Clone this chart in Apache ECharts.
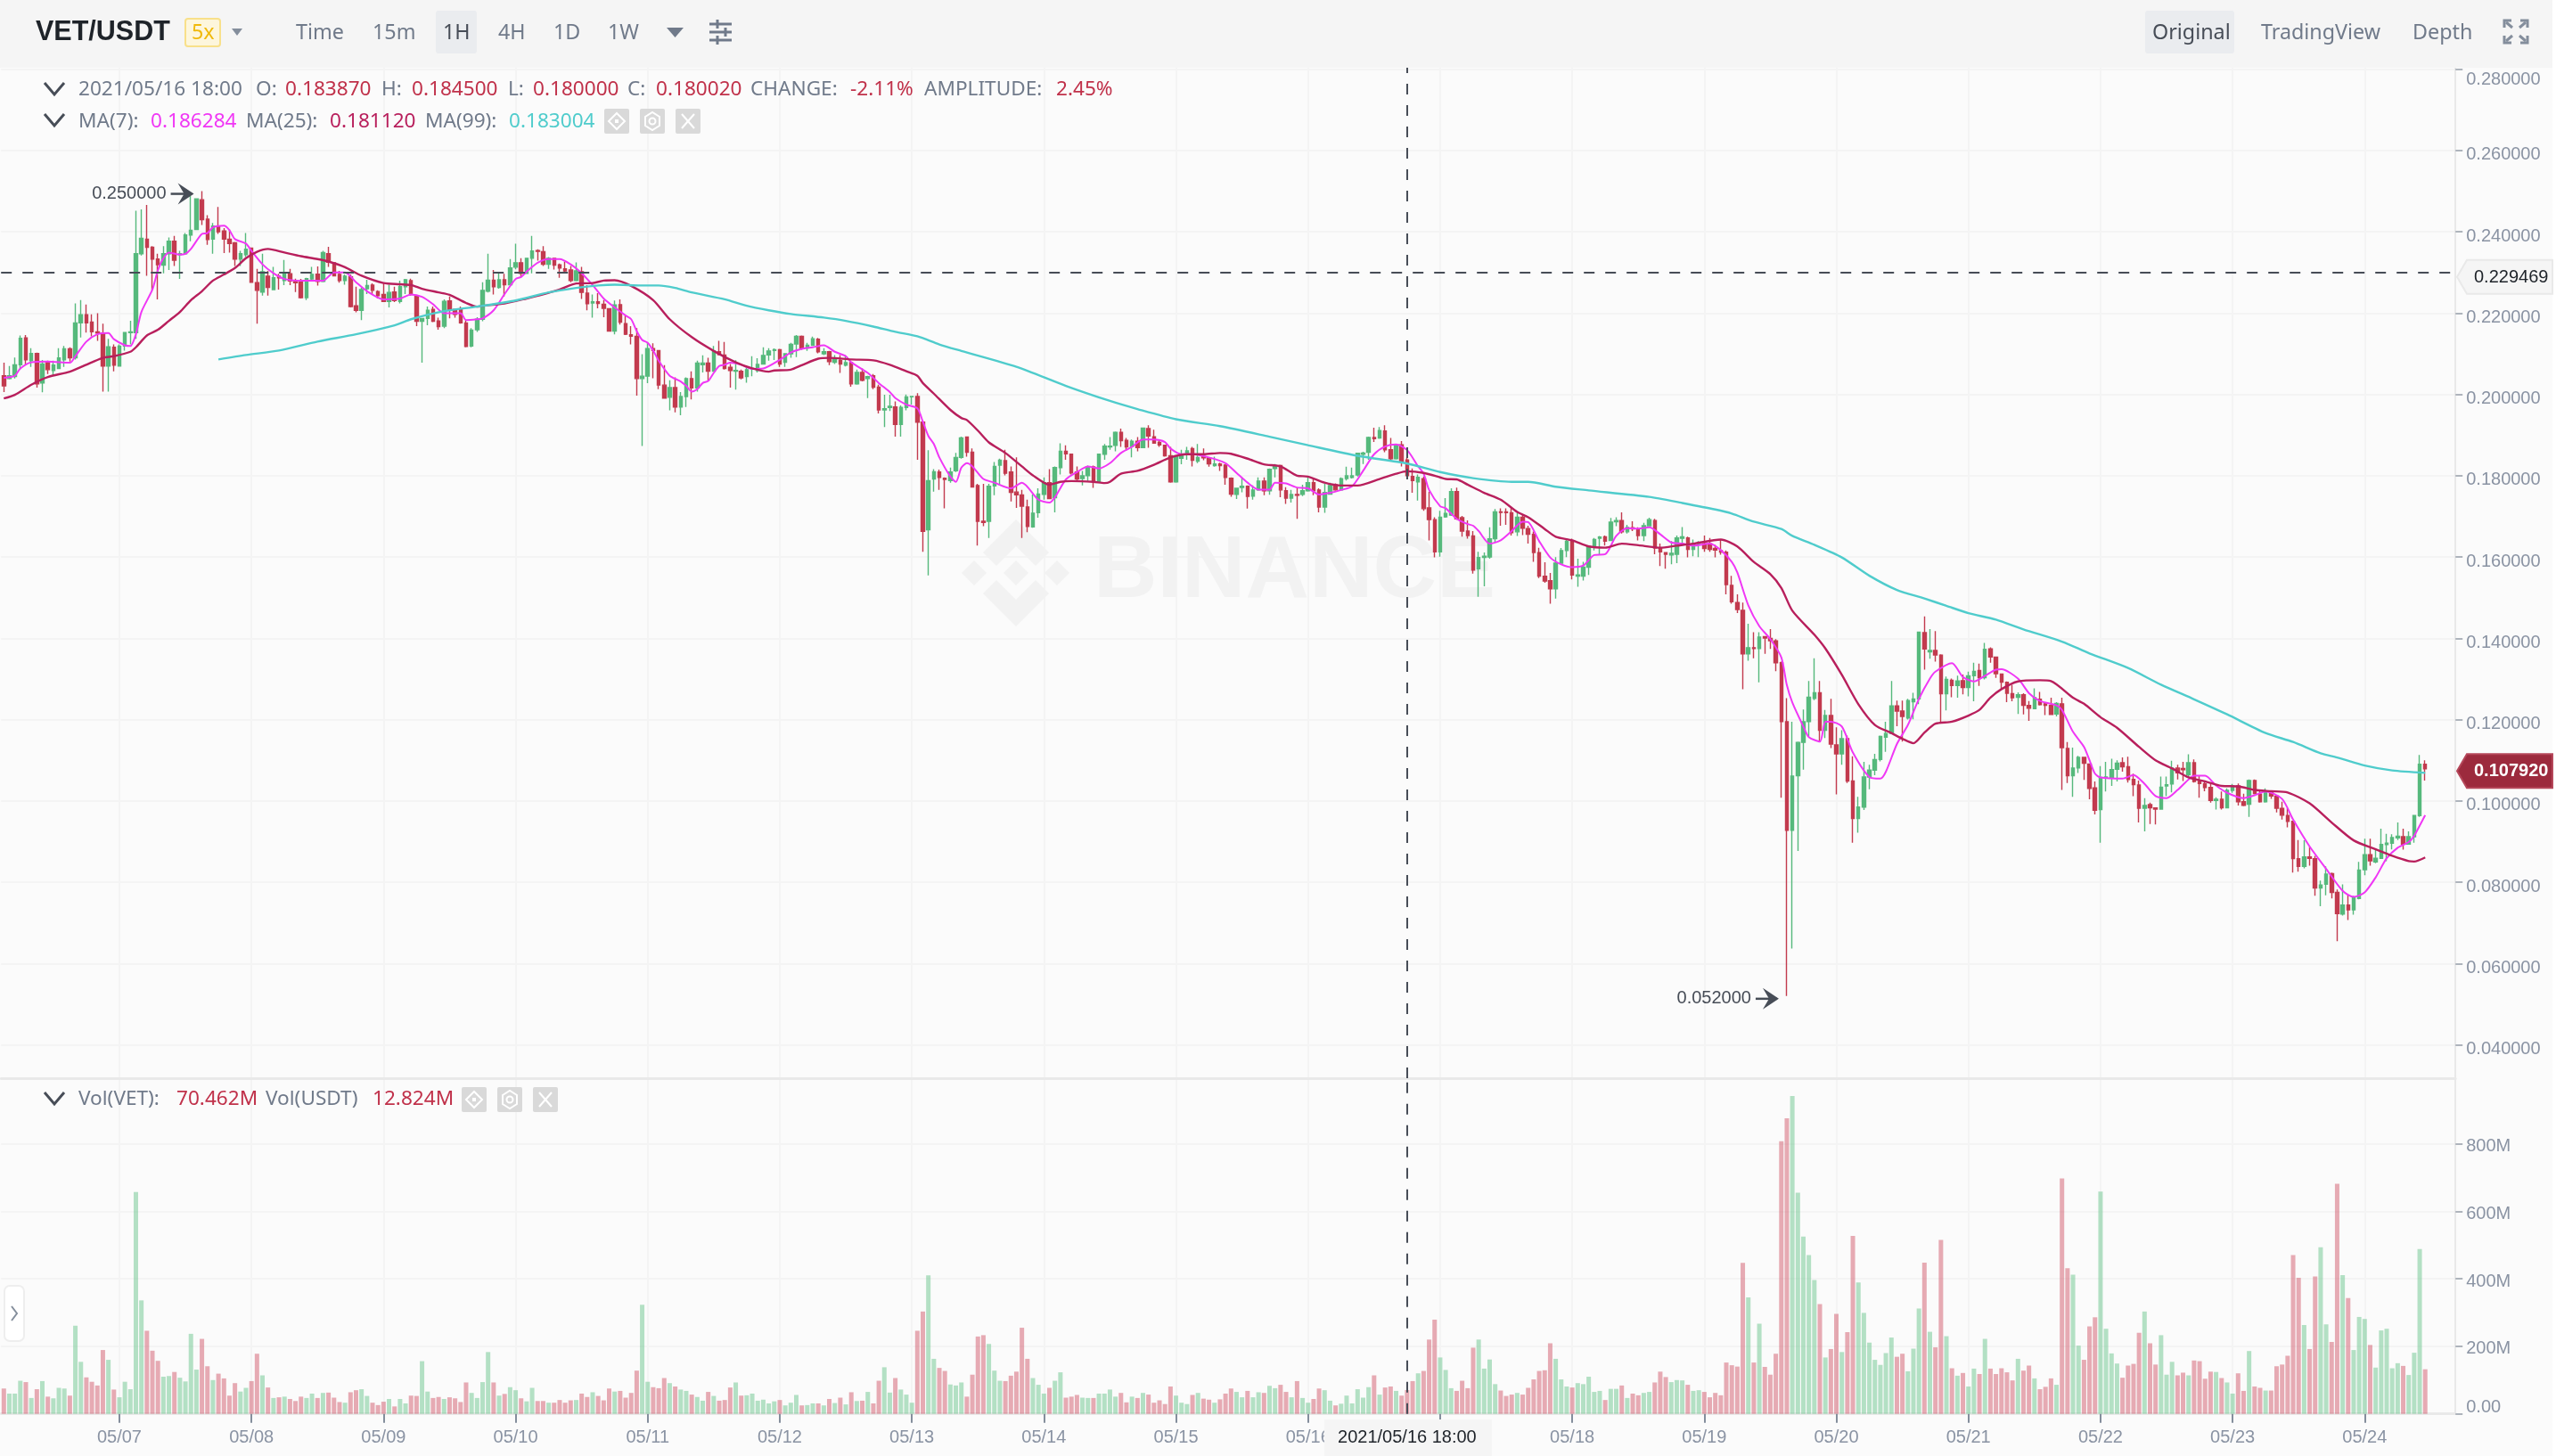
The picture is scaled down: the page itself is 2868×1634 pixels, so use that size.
<!DOCTYPE html>
<html><head><meta charset="utf-8"><title>VET/USDT</title>
<style>html,body{margin:0;padding:0;background:#fbfbfb}#c{width:2868px;height:1634px}</style>
<script src="https://cdn.jsdelivr.net/npm/echarts@6/dist/echarts.min.js"></script></head>
<body><div id="c"></div><script>
const PRICE_UNIT = 1e-4;           // candles and MA values are written in units of 0.0001 USDT
const FIRST_HOUR_OFFSET = 3;       // first candle is 05/06 03:00
const priceTicks = [0.04,0.06,0.08,0.10,0.12,0.14,0.16,0.18,0.20,0.22,0.24,0.26,0.28];
const volumeTicks = [0,200,400,600,800];
const crosshairIndex = 255, crosshairPrice = 0.229469, crosshairLine = 0.2291, crosshairTime = '2021/05/16 18:00';
const lastPrice = 0.107920, highMark = {index:36, price:0.25}, lowMark = {index:324, price:0.052};
// [open, close, low, high], hourly
const candles = [
[2046,2021,2006,2078],[2039,2046,2037,2070],[2044,2073,2039,2091],[2073,2138,2061,2145],[2139,2085,2073,2146],[2083,2101,2068,2114],[2101,2026,2017,2103],[2028,2075,2005,2085],[2079,2061,2050,2083],[2059,2072,2046,2083],
[2064,2090,2064,2114],[2085,2112,2068,2119],[2112,2090,2081,2116],[2090,2176,2086,2224],[2176,2196,2140,2232],[2196,2176,2152,2221],[2178,2154,2143,2197],[2154,2151,2132,2200],[2151,2070,2007,2174],[2070,2117,2007,2137],
[2116,2072,2057,2123],[2070,2119,2070,2123],[2119,2152,2108,2154],[2152,2154,2123,2181],[2152,2346,2137,2452],[2346,2384,2342,2455],[2382,2362,2292,2466],[2362,2333,2256,2365],[2333,2319,2234,2346],[2318,2346,2298,2365],
[2346,2377,2306,2386],[2377,2330,2316,2390],[2344,2346,2284,2353],[2346,2392,2344,2397],[2392,2404,2377,2488],[2406,2481,2404,2482],[2479,2430,2417,2500],[2431,2381,2368,2441],[2382,2414,2346,2422],[2414,2400,2395,2461],
[2402,2382,2348,2409],[2382,2371,2349,2406],[2373,2333,2316,2375],[2333,2346,2316,2353],[2344,2357,2338,2397],[2360,2276,2276,2360],[2275,2256,2174,2309],[2252,2302,2243,2346],[2291,2263,2243,2304],[2258,2287,2256,2314],
[2291,2287,2258,2297],[2280,2297,2269,2331],[2297,2279,2269,2309],[2278,2275,2252,2285],[2276,2238,2236,2284],[2238,2285,2232,2287],[2284,2295,2282,2314],[2296,2278,2268,2315],[2278,2349,2276,2353],[2346,2325,2314,2363],
[2324,2292,2291,2324],[2295,2280,2275,2304],[2280,2291,2270,2295],[2289,2216,2214,2295],[2218,2207,2202,2265],[2207,2258,2183,2263],[2260,2268,2247,2282],[2269,2256,2246,2273],[2253,2243,2236,2256],[2246,2229,2227,2273],
[2229,2251,2214,2270],[2252,2231,2227,2265],[2229,2265,2224,2280],[2265,2282,2247,2284],[2280,2246,2243,2285],[2243,2180,2168,2243],[2180,2187,2078,2187],[2187,2207,2170,2216],[2209,2180,2178,2216],[2181,2167,2159,2189],
[2168,2229,2163,2234],[2230,2209,2187,2241],[2209,2197,2189,2211],[2209,2176,2174,2216],[2176,2118,2116,2183],[2119,2158,2116,2163],[2159,2185,2154,2190],[2185,2256,2180,2276],[2254,2281,2251,2346],[2281,2265,2246,2306],
[2263,2282,2260,2300],[2282,2270,2241,2297],[2270,2311,2269,2333],[2313,2324,2308,2371],[2324,2298,2289,2335],[2298,2335,2297,2336],[2335,2353,2298,2390],[2354,2352,2329,2357],[2351,2320,2316,2365],[2320,2335,2309,2338],
[2335,2318,2307,2336],[2319,2311,2287,2322],[2309,2304,2300,2327],[2306,2280,2276,2316],[2280,2304,2278,2325],[2302,2251,2235,2314],[2249,2223,2207,2269],[2225,2228,2189,2246],[2228,2224,2212,2249],[2222,2212,2190,2232],
[2211,2156,2155,2212],[2156,2220,2148,2231],[2221,2178,2172,2234],[2174,2148,2146,2194],[2147,2143,2123,2168],[2143,2039,1997,2163],[2039,2045,1873,2099],[2045,2113,2028,2127],[2113,2108,2040,2126],[2108,2023,2013,2108],
[2023,1991,1990,2072],[1993,2017,1961,2035],[2017,1969,1956,2042],[1969,1995,1949,2006],[1995,2039,1969,2042],[2039,2016,1988,2057],[2016,2077,2007,2083],[2073,2077,2054,2096],[2077,2057,2033,2090],[2057,2107,2056,2119],
[2105,2098,2097,2132],[2097,2064,2061,2129],[2067,2059,2017,2075],[2057,2059,2012,2084],[2057,2041,2037,2061],[2044,2061,2029,2066],[2063,2064,2045,2094],[2059,2074,2054,2089],[2075,2096,2073,2116],[2097,2107,2083,2114],
[2108,2110,2085,2113],[2110,2075,2068,2112],[2079,2100,2068,2101],[2100,2123,2090,2127],[2124,2143,2092,2146],[2143,2114,2110,2145],[2114,2121,2107,2127],[2121,2137,2120,2142],[2136,2105,2101,2139],[2100,2105,2097,2114],
[2105,2081,2072,2107],[2079,2086,2075,2097],[2084,2075,2053,2097],[2072,2078,2069,2097],[2078,2026,2019,2079],[2026,2054,2024,2061],[2054,2035,2032,2064],[2039,2044,1991,2046],[2046,2018,2013,2050],[2018,1962,1953,2024],
[1962,1965,1920,1999],[1968,1971,1959,1999],[1969,1926,1896,1983],[1926,1968,1896,1973],[1968,1994,1961,2000],[1994,1995,1975,1996],[1995,1932,1839,2003],[1932,1663,1613,1933],[1667,1788,1555,1863],[1792,1810,1761,1816],
[1809,1796,1765,1815],[1794,1791,1720,1796],[1788,1809,1783,1820],[1812,1845,1809,1856],[1845,1893,1842,1896],[1895,1858,1847,1896],[1858,1772,1771,1867],[1776,1688,1628,1780],[1688,1685,1676,1780],[1688,1774,1647,1780],
[1775,1823,1752,1834],[1826,1838,1776,1842],[1837,1806,1801,1864],[1809,1759,1737,1823],[1760,1753,1721,1845],[1753,1725,1647,1765],[1723,1675,1661,1741],[1674,1708,1672,1754],[1709,1755,1697,1769],[1754,1783,1741,1796],
[1783,1744,1742,1816],[1746,1820,1710,1823],[1820,1860,1803,1880],[1860,1854,1839,1875],[1853,1807,1803,1854],[1809,1792,1787,1823],[1793,1800,1776,1812],[1800,1822,1787,1825],[1822,1785,1770,1825],[1785,1853,1783,1854],
[1853,1873,1839,1878],[1871,1873,1864,1895],[1875,1907,1860,1909],[1907,1886,1871,1916],[1887,1871,1861,1893],[1872,1885,1845,1889],[1885,1869,1860,1895],[1869,1917,1869,1918],[1916,1898,1869,1924],[1896,1880,1879,1913],
[1882,1876,1871,1889],[1875,1849,1847,1876],[1849,1785,1783,1871],[1785,1847,1783,1849],[1843,1853,1828,1864],[1853,1861,1839,1871],[1867,1838,1823,1871],[1836,1845,1831,1878],[1847,1844,1838,1867],[1844,1829,1822,1845],
[1825,1829,1822,1847],[1829,1825,1812,1832],[1826,1796,1778,1829],[1794,1755,1748,1796],[1754,1769,1743,1770],[1771,1774,1759,1796],[1774,1749,1719,1776],[1750,1765,1741,1776],[1765,1787,1763,1796],[1787,1763,1752,1796],
[1763,1816,1753,1818],[1818,1825,1796,1829],[1825,1765,1747,1827],[1763,1745,1731,1772],[1745,1754,1734,1765],[1754,1752,1694,1771],[1754,1763,1750,1778],[1763,1783,1761,1796],[1783,1763,1752,1793],[1765,1723,1710,1769],
[1723,1759,1709,1780],[1755,1776,1754,1783],[1778,1765,1763,1781],[1765,1793,1763,1796],[1793,1800,1788,1822],[1796,1800,1793,1820],[1802,1855,1798,1856],[1853,1856,1829,1859],[1858,1894,1839,1896],[1894,1891,1883,1918],
[1893,1911,1891,1920],[1910,1864,1858,1924],[1864,1842,1837,1893],[1842,1875,1840,1878],[1876,1834,1823,1885],[1838.7,1800.2,1800,1845],[1798,1788,1758,1818],[1785,1796,1739,1803],[1793,1719,1714,1798],[1721,1692,1641,1761],
[1692,1613,1599,1698],[1613,1698,1601,1714],[1699,1707,1697,1745],[1703,1761,1701,1769],[1761,1694,1692,1771],[1697,1664,1650,1701],[1664,1653,1645,1690],[1652,1568,1559,1664],[1571,1599,1502,1613],[1599,1602,1528,1611],
[1600,1645,1596,1673],[1645,1711,1636,1718],[1711,1710,1677,1720],[1711,1709,1679,1720],[1709,1660,1653,1722],[1662,1698,1652,1711],[1698,1671,1654,1704],[1670,1656,1633,1677],[1656,1611,1588,1663],[1611,1553,1548,1623],
[1553,1541,1537,1587],[1542,1522,1485,1561],[1522,1585,1498,1600],[1585,1616,1582,1622],[1616,1639,1600,1645],[1641,1556,1545,1645],[1553,1556,1527,1596],[1553,1575,1542,1588],[1575,1626,1556,1628],[1626,1643,1616,1647],
[1646,1649,1605,1652],[1650,1639,1628,1653],[1641,1686,1639,1696],[1687,1690,1676,1698],[1690,1662,1658,1710],[1662,1673,1658,1679],[1672,1669,1664,1688],[1667,1653,1641,1673],[1653,1677,1639,1684],[1677,1692,1676,1697],
[1690,1622,1607,1694],[1622,1613,1578,1633],[1611,1607,1571,1611],[1605,1609,1582,1639],[1607,1647,1585,1653],[1646,1650,1630,1674],[1647,1619,1599,1650],[1619,1633,1602,1643],[1633,1635,1600,1639],[1633,1621,1613,1653],
[1633,1619,1613,1647],[1621,1617,1599,1630],[1616,1612,1606,1643],[1612,1532,1508,1616],[1530,1490,1485,1554],[1488,1471,1462,1508],[1469,1362,1275,1488],[1362,1377,1345,1436],[1377,1375,1351,1415],[1375,1403,1292,1415],
[1404,1401,1362,1406],[1400,1394,1374,1423],[1394,1340,1319,1398],[1340,1195,1008,1343],[1195,928,520,1253],[928,1061,637,1195],[1062,1144,877,1146],[1144,1195,1077,1225],[1195,1255,1159,1295],[1252,1266,1248,1351],
[1266,1174,1146,1295],[1174,1210,1155,1224],[1210,1140,1130,1251],[1138,1116,1016,1181],[1116,1153,1089,1174],[1153,1049,1044,1161],[1049,957,897,1110],[957,985,922,1010],[985,1059,978,1096],[1059,1076,1029,1089],
[1076,1102,1063,1116],[1102,1159,1097,1161],[1157,1166,1121,1195],[1166,1234,1164,1295],[1234,1221,1184,1247],[1221,1208,1146,1247],[1204,1247,1200,1251],[1244,1251,1201,1266],[1251,1415,1238,1417],[1414,1374,1323,1454],
[1367,1370,1350,1423],[1370,1359,1343,1418],[1359,1264,1194,1361],[1264,1299,1223,1306],[1297,1284,1255,1301],[1284,1295,1254,1308],[1296,1279,1262,1311],[1279,1308,1257,1318],[1308,1319,1245,1340],[1321,1303,1283,1338],
[1303,1373,1299,1389],[1374,1354,1340,1378],[1354,1313,1303,1354],[1312,1292,1275,1313],[1292,1265,1243,1294],[1264,1254,1245,1286],[1255,1261,1214,1267],[1261,1235,1213,1265],[1235,1228,1197,1246],[1227,1254,1226,1277],
[1250,1237,1235,1268],[1239,1235,1211,1243],[1235,1213,1213,1254],[1214,1240,1208,1243],[1239,1131,1027,1254],[1129,1062,1044,1145],[1062,1081,1010,1131],[1081,1107,1069,1111],[1107,1093,1052,1109],[1091,1031,1004,1091],
[1032,977,967,1048],[979,1058,897,1086],[1056,1059,1023,1096],[1058,1077,1037,1104],[1078,1093,1048,1100],[1094,1084,1072,1107],[1084,1053,1045,1109],[1053,1040,1012,1067],[1039,982,947,1050],[982,989,925,1007],
[991,983,943,996],[983,980,942,984],[980,1034,979,1060],[1037,1040,1012,1060],[1042,1081,1021,1099],[1081,1069,1053,1089],[1080,1077,1049,1096],[1064,1094,1056,1115],[1094,1048,1045,1102],[1048,1043,1008,1062],
[1042,1033,1024,1050],[1033,1001,996,1045],[1001,1004,979,1009],[1004,983,979,1023],[983,1026,982,1031],[1026,1037,1020,1042],[1037,998,989,1043],[998,989,987,1018],[992,1050,961,1053],[1050,1018,1016,1053],
[1017,998,996,1027],[998,1023,996,1031],[1022,1012,1005,1026],[1012,982,972,1014],[982,965,954,998],[964,950,935,982],[950,858,824,951],[858,839,826,904],[839,862,834,903],[862,859,841,887],
[858,786,767,865],[786,793,741,804],[795,820,768,839],[821,775,760,824],[775,723,655,782],[722,744,718,795],[744,732,707,770],[732,763,720,766],[760,830,758,850],[831,868,817,907],
[868,853,841,907],[850,859,847,880],[859,893,858,932],[893,896,852,919],[896,910,881,918],[909,913,904,947],[912,894,880,932],[894,912,893,925],[912,964,897,966],[964,1090,961,1113],
[1090,1079.2,1050,1100]];
// traded volume per candle, millions of VET
const volumes = [75,60,60,98,94,47,73,97,51,46,77,75,54,261,154,108,95,84,189,160,72,49,95,73,657,336,246,187,157,110,112,124,107,96,237,131,222,141,100,119,105,54,91,66,77,97,178,114,78,47,49,51,44,38,51,47,60,47,62,63,48,35,33,64,70,73,53,33,26,36,44,22,44,31,54,53,156,66,47,50,44,49,46,35,93,62,47,94,183,93,54,59,79,70,46,37,77,38,38,33,33,41,33,40,41,60,50,64,53,40,75,66,68,48,62,128,323,95,79,76,106,91,81,72,68,57,50,39,65,53,39,41,78,93,54,55,60,39,42,31,37,41,25,33,56,25,26,31,31,25,44,32,48,28,64,38,39,65,31,98,138,63,
106,72,57,33,246,303,410,163,136,127,87,84,93,51,116,229,233,207,128,98,97,113,125,255,163,106,86,60,77,98,123,48,51,56,48,47,47,60,60,72,51,62,34,51,47,62,57,33,40,29,81,54,33,29,56,62,45,42,33,43,60,75,65,49,68,49,64,62,83,76,86,65,49,97,47,33,44,75,70,39,25,30,54,31,73,48,79,114,57,78,81,68,54,70.462,97,120,127,220,279,167,130,76,68,98,76,196,220,134,161,88,69,53,57,62,57,77,102,127,129,209,163,102,81,78,91,88,110,65,68,41,74,74,84,47,60,55,62,65,93,125,109,94,100,99,86,68,70,65,49,62,55,152,144,140,447,345,152,267,139,116,178,807,
875,941,655,525,470,396,325,167,192,296,183,242,527,389,299,211,160,145,180,226,169,178,126,193,312,448,243,197,515,230,135,113,121,81,134,118,222,134,118,135,123,99,163,128,143,105,73,80,105,86,697,431,412,202,160,259,286,658,252,179,149,107,143,148,240,303,209,146,233,116,154,114,122,114,158,156,104,125,124,106,93,60,120,68,186,81,77,69,69,141,146,172,470,403,263,192,407,493,265,213,681,411,343,189,287,281,204,137,247,252,135,150,142,115,181,488,132];
// moving averages: [candle index, value]
const ma7 = [[0,2041],[2,2046],[3,2064],[5,2079],[8,2081],[12,2078],[13,2094],[15,2130],[17,2148],[19,2151],[20,2136],[22,2121],[23,2119],[24,2148],[25,2203],[27,2258],[28,2306],[29,2335],[30,2349],[32,2344],[33,2346],[34,2358],[36,2395],[37,2397],[38,2411],[40,2415],[41,2404],[42,2382],[44,2371],[45,2353],[47,2320],[49,2298],[51,2284],[54,2280],[56,2280],[58,2280],[60,2300],[62,2300],[64,2276],[66,2254],[69,2234],[72,2236],[74,2246],[76,2240],[78,2222],[80,2200],[83,2200],[84,2183],[86,2185],
[87,2187],[89,2207],[91,2247],[93,2284],[94,2289],[95,2302],[97,2324],[99,2333],[101,2333],[103,2320],[105,2298],[107,2269],[109,2236],[111,2214],[113,2194],[114,2185],[115,2156],[116,2134],[117,2127],[118,2108],[119,2083],[121,2046],[123,2032],[124,2021],[125,2007],[126,2013],[127,2028],[128,2033],[129,2053],[130,2070],[131,2073],[132,2078],[134,2073],[136,2063],[138,2064],[141,2085],[143,2103],[145,2112],[147,2116],[149,2121],[151,2105],[153,2094],[154,2079],[157,2053],[159,2028],[161,2006],[162,1991],[164,1975],[166,1966],[167,1933],[168,1898],[169,1878],[170,1845],[172,1798],[173,1785],[174,1820],
[175,1831],[176,1823],[178,1792],[180,1783],[183,1769],[185,1783],[188,1741],[190,1734],[191,1747],[193,1791],[195,1809],[197,1823],[199,1818],[201,1831],[203,1856],[205,1871],[207,1889],[209,1889],[211,1883],[212,1867],[214,1853],[216,1853],[219,1845],[222,1831],[224,1807],[226,1783],[228,1766],[230,1766],[231,1783],[233,1781],[235,1771],[237,1769],[239,1754],[241,1758],[243,1765],[245,1774],[247,1812],[249,1853],[251,1872],[253,1877],[255,1863],[257,1823],[258,1805],[259,1765],[261,1725],
[262,1720],[264,1694],[266,1681],[267,1677],[268,1664],[270,1633],[272,1641],[274,1664],[276,1687],[277,1686],[279,1639],[281,1599],[283,1582],[285,1575],[287,1579],[289,1605],[291,1607],[293,1652],[295,1671],[297,1670],[299,1673],[301,1656],[303,1636],[305,1633],[307,1628],[310,1633],[312,1617],[314,1588],[315,1562],[317,1481],[319,1430],[321,1398],[323,1353],[324,1285],[325,1242],[327,1183],[328,1157],[330,1146],[331,1195],[332,1195],[334,1183],[336,1119],[339,1059],[341,1055],[342,1072],[344,1140],[346,1187],[348,1251],
[350,1301],[351,1318],[354,1339],[356,1305],[358,1294],[360,1308],[362,1323],[363,1324],[366,1301],[368,1265],[370,1246],[373,1235],[374,1224],[376,1170],[378,1133],[379,1100],[380,1067],[381,1058],[385,1055],[387,1064],[389,1042],[391,1012],[393,1007],[395,1027],[397,1053],[398,1062],[400,1062],[402,1038],[404,1020],[407,1007],[409,1014],[411,1023],[414,1005],[416,954],[419,888],[422,833],[425,779],[427,764],[429,775],[431,812],[433,859],[435,885],[437,899],[438,914],[440,965]];
const ma25 = [[0,1990],[2,1999],[5,2024],[8,2043],[12,2056],[16,2079],[18,2090],[20,2094],[23,2105],[24,2116],[26,2145],[28,2159],[30,2181],[32,2203],[34,2232],[36,2254],[38,2280],[40,2295],[42,2311],[44,2335],[46,2351],[48,2358],[51,2349],[54,2340],[57,2333],[59,2327],[62,2313],[65,2292],[69,2274],[72,2271],[74,2269],[76,2260],[79,2251],[81,2245],[84,2225],[86,2216],
[87,2218],[91,2224],[95,2236],[98,2246],[101,2258],[104,2273],[107,2274],[109,2280],[111,2281],[114,2267],[118,2232],[121,2185],[125,2141],[129,2107],[133,2079],[136,2064],[139,2056],[140,2059],[143,2061],[145,2072],[148,2088],[150,2090],[154,2086],[158,2084],[161,2073],[164,2057],[166,2046],[167,2028],[169,2002],[172,1962],[174,1942],
[175,1937],[177,1911],[179,1882],[182,1856],[185,1823],[187,1801],[190,1778],[192,1785],[194,1787],[198,1785],[200,1782],[201,1785],[203,1805],[206,1812],[209,1827],[212,1845],[215,1853],[218,1853],[221,1856],[223,1854],[226,1842],[229,1828],[232,1823],[235,1800],[237,1798],[240,1783],[243,1776],[246,1776],[250,1792],[253,1805],[255,1811],[258,1807],[261,1796],
[262,1792],[264,1791],[266,1778],[269,1758],[272,1741],[275,1711],[277,1698],[280,1669],[282,1650],[285,1641],[288,1626],[291,1623],[294,1633],[297,1629],[301,1623],[304,1628],[307,1633],[312,1643],[315,1626],[318,1588],[321,1558],[323,1524],[325,1468],[329,1409],[331,1375],[334,1310],[337,1238],[340,1187],[343,1167],[345,1153],[347,1142],[349,1168],
[351,1190],[354,1195],[357,1210],[359,1224],[361,1254],[363,1275],[366,1294],[370,1297],[372,1295],[376,1254],[378,1239],[381,1206],[384,1180],[388,1133],[391,1100],[394,1080],[397,1058],[400,1048],[403,1037],[406,1036],[409,1027],[412,1024],[415,1021],[419,994],[423,947],[427,903],[431,881],[434,865],[437,852],[438,851],[440,861]];
const ma99 = [[39,2086],[44,2097],[50,2108],[57,2130],[64,2148],[71,2170],[74,2185],[80,2205],[86,2216],[93,2231],[99,2251],[104,2262],[108,2268],[111,2270],[116,2268],[119,2268],[122,2262],[125,2251],[131,2234],[135,2218],[139,2207],[143,2198],[149,2189],[153,2181],[158,2167],[162,2154],[166,2143],[170,2123],[174,2107],[184,2068],[193,2021],[201,1984],[206,1964],[213,1939],[221,1922],[230,1896],[237,1875],[246,1849],[255,1830],[261,1809],[267,1794],[274,1785],[277,1785],[282,1773],[288,1764],[299,1748],[305,1733],[311,1717],[314,1707],[318,1687],[323,1669],[325,1652],[329,1630],[334,1599],[339,1554],[344,1519],[349,1498],[353,1480],[357,1462],[362,1446],[367,1422],[374,1392],[379,1363],[386,1327],[392,1286],[398,1250],[404,1213],[411,1167],[416,1145],[421,1117],[424,1107],[429,1087],[434,1075],[440,1069]];
const infoLine1 = [['2021/05/16 18:00',88,0],['O:',287,0],['0.183870',320,1],['H:',428,0],['0.184500',462,1],['L:',570,0],['0.180000',598,1],['C:',704,0],['0.180020',736,1],['CHANGE:',842,0],['-2.11%',954,1],['AMPLITUDE:',1037,0],['2.45%',1185,1]];
const infoLine2 = [['MA(7):',88,'#707a8a'],['0.186284',169,'#f037f5'],['MA(25):',276,'#707a8a'],['0.181120',370,'#b81f5c'],['MA(99):',477,'#707a8a'],['0.183004',571,'#4fcccc']];
const infoLine3 = [['Vol(VET):',88,0],['70.462M',198,1],['Vol(USDT)',298,0],['12.824M',418,1]];
const toolbarLeft = [['Time',332],['15m',418],['4H',559],['1D',621],['1W',682]];

const extraSlots = 5, slotCount = candles.length + extraSlots;
const categories = [];
for (let i = 0; i < slotCount; i++) {
  const h = i + FIRST_HOUR_OFFSET, day = 6 + Math.floor(h / 24), hour = h % 24;
  categories.push('05/' + String(day).padStart(2, '0') + (hour === 0 ? '' : ' ' + String(hour).padStart(2, '0') + ':00'));
}
const isDay = i => (i + FIRST_HOUR_OFFSET) % 24 === 0;
const UP = '#56b97c', DOWN = '#c23a4e', VUP = '#5cbf80', VDOWN = '#c8394f';
const toPrice = a => a.map(v => +(v * PRICE_UNIT).toFixed(6));
const AXIS = 'Liberation Sans', UI = 'Noto Sans';
const grey = '#8a93a3';

const chart = echarts.init(document.getElementById('c'), null, {renderer:'canvas', width:2868, height:1634, devicePixelRatio:1});
const dayTick = (i) => isDay(i);
const xBase = {
  type:'category', data:categories, boundaryGap:true,
  axisTick:{show:true, alignWithLabel:true, interval:dayTick, length:10, lineStyle:{color:'#848e9c', width:2}},
  splitLine:{show:true, alignWithLabel:true, interval:dayTick, lineStyle:{color:'#f4f4f4', width:2}},
  axisLine:{show:true, lineStyle:{color:'#e9e9e9', width:3}}
};
const option = {
  animation:false, backgroundColor:'#fbfbfb',
  grid:[{left:1.2, top:76, width:2754, height:1134}, {left:1.2, top:1207.7, width:2754, height:379}],
  xAxis:[
    Object.assign({}, xBase, {gridIndex:0, axisLabel:{show:false}, axisTick:{show:false}}),
    Object.assign({}, xBase, {gridIndex:1, axisLabel:{show:true, interval:dayTick, formatter:v => v.slice(0,5), color:grey, fontSize:20, fontFamily:AXIS, margin:17}})
  ],
  yAxis:[
    {type:'value', gridIndex:0, position:'right', min:0.0318, max:0.28037, scale:true,
     axisLine:{show:true, lineStyle:{color:'#e9e9e9', width:2}},
     axisTick:{show:true, length:8, customValues:priceTicks, lineStyle:{color:'#aeb4bc', width:2}},
     splitLine:{show:true, lineStyle:{color:'#f4f4f4', width:2}},
     axisLabel:{show:true, inside:false, margin:12, customValues:priceTicks, color:grey, fontSize:20, fontFamily:AXIS,
       formatter:v => Math.abs(v-0.28)<1e-9 ? '{t|'+v.toFixed(6)+'}' : '{n|'+v.toFixed(6)+'}',
       rich:{t:{padding:[24,0,0,0],color:grey,fontSize:20,fontFamily:AXIS}, n:{padding:[10,0,0,0],color:grey,fontSize:20,fontFamily:AXIS}}}},
    {type:'value', gridIndex:1, position:'right', min:0, max:1000,
     axisLine:{show:true, lineStyle:{color:'#e9e9e9', width:2}},
     axisTick:{show:true, length:8, customValues:volumeTicks, lineStyle:{color:'#aeb4bc', width:2}},
     splitLine:{show:true, lineStyle:{color:'#f4f4f4', width:2}},
     axisLabel:{show:true, margin:12, customValues:volumeTicks, color:grey, fontSize:20, fontFamily:AXIS,
       formatter:v => v===0 ? '{b|0.00}' : '{n|'+v+'M}',
       rich:{b:{padding:[0,0,14,0],color:grey,fontSize:20,fontFamily:AXIS}, n:{padding:[6,0,0,0],color:grey,fontSize:20,fontFamily:AXIS}}}}
  ],
  series:[
    {type:'candlestick', name:'VET/USDT', xAxisIndex:0, yAxisIndex:0, barWidth:4, clip:true,
     data:candles.map(toPrice),
     itemStyle:{color:UP, color0:DOWN, borderColor:UP, borderColor0:DOWN, borderWidth:1.4}},
    {type:'line', name:'MA(7)', xAxisIndex:0, yAxisIndex:0, data:ma7.map(p=>[p[0],p[1]*PRICE_UNIT]), showSymbol:false, smooth:0.25, lineStyle:{color:'#f037f5', width:2}, z:3},
    {type:'line', name:'MA(25)', xAxisIndex:0, yAxisIndex:0, data:ma25.map(p=>[p[0],p[1]*PRICE_UNIT]), showSymbol:false, smooth:0.25, lineStyle:{color:'#b81f5c', width:2.4}, z:3},
    {type:'line', name:'MA(99)', xAxisIndex:0, yAxisIndex:0, data:ma99.map(p=>[p[0],p[1]*PRICE_UNIT]), showSymbol:false, smooth:0.25, lineStyle:{color:'#4fcccc', width:2.4}, z:3,
     markLine:{silent:true, symbol:'none', animation:false, label:{show:false},
       lineStyle:{color:'#474d57', type:[12,12], width:2},
       data:[{xAxis:crosshairIndex},{yAxis:crosshairLine}]}},
    {type:'bar', name:'Volume', xAxisIndex:1, yAxisIndex:1, barWidth:5,
     data:volumes.map((v,i)=>({value:v, itemStyle:{color:candles[i][1]>=candles[i][0]?VUP:VDOWN, opacity:candles[i][1]>=candles[i][0]?0.45:0.42}})),
     markLine:{silent:true, symbol:'none', animation:false, label:{show:false},
       lineStyle:{color:'#474d57', type:[12,12], width:2}, data:[{xAxis:crosshairIndex}]}}
  ]
};
chart.setOption(option);

// ---- chrome, labels and overlays
const TOP = 50;
const els = [];
const R = (x,y,w,h,fill,o={}) => els.push({type:'rect', z:o.z??TOP, silent:true, shape:{x,y,width:w,height:h,r:o.r||0}, style:{fill, stroke:o.stroke||null, lineWidth:o.lw||0}});
const T = (x,y,text,fill,size,o={}) => els.push({type:'text', z:o.z??TOP+1, silent:true, x, y, style:{text, fill, font:(o.weight||'normal')+' '+size+'px "'+(o.font||UI)+'"', textAlign:o.align||'left', textVerticalAlign:'middle'}});
const PL = (pts,stroke,lw=2,o={}) => els.push({type:'polyline', z:o.z??TOP+1, silent:true, shape:{points:pts}, style:{stroke, lineWidth:lw, fill:null, lineJoin:'miter'}});
const PG = (pts,fill,o={}) => els.push({type:'polygon', z:o.z??TOP+1, silent:true, shape:{points:pts}, style:{fill, stroke:o.stroke||null, lineWidth:o.lw||0}});

// watermark (below the marks)
const WM = '#f2f2f2', wz = {z:0};
[[1093,643],[1140,643],[1186,643]].forEach(c=>PG([[c[0]-14,c[1]],[c[0],c[1]-14],[c[0]+14,c[1]],[c[0],c[1]+14]],WM,wz));
PG([[1140,583],[1177,620],[1162,635],[1140,613],[1118,635],[1103,620]],WM,wz);
PG([[1140,703],[1177,666],[1162,651],[1140,673],[1118,651],[1103,666]],WM,wz);
T(1227,643,'BINANCE',WM,99,{font:AXIS,weight:'bold',z:0});

// header
const TB = 23.3, TY = 37;
R(0,0,2864,76,'#f5f5f5');
T(40,37,'VET/USDT','#1e2329',30.5,{weight:'bold',font:'Liberation Sans'});
R(208,21,39,31,'#fdf6dc',{r:3,stroke:'#f8e08a',lw:2});
T(215,TY,'5x','#f0b90b',TB);
PG([[260,32],[272,32],[266,40]],'#848e9c');
toolbarLeft.forEach(t=>T(t[1],TY,t[0],'#707a8a',TB));
R(489,12,46,48,'#eaecef',{r:3}); T(497,TY,'1H','#474d57',TB);
PG([[748,31],[767,31],[757.5,42]],'#707a8a');
[[796,821,27,805],[796,821,36,814],[796,821,45,805]].forEach(l=>{PL([[l[0],l[2]],[l[1],l[2]]],'#707a8a',3);PL([[l[3],l[2]-5],[l[3],l[2]+5]],'#707a8a',3);});
R(2407,12,100,48,'#eaecef',{r:3}); T(2415,TY,'Original','#474d57',TB);
T(2537,TY,'TradingView','#707a8a',TB); T(2707,TY,'Depth','#707a8a',TB);
[[2810,23,1,1],[2836,23,-1,1],[2810,48,1,-1],[2836,48,-1,-1]].forEach(a=>{
  PL([[a[0],a[1]+a[3]*8],[a[0],a[1]],[a[0]+a[2]*8,a[1]]],'#848e9c',3);
  PL([[a[0]+a[2]*2,a[1]+a[3]*2],[a[0]+a[2]*9,a[1]+a[3]*8]],'#848e9c',3);
});
R(2864,0,4,1634,'#ffffff');

// info lines
const chevron = (x,y)=>PL([[x,y-7],[x+11,y+6],[x+22,y-7]],'#474d57',3);
const iconSet = (x0,y,h)=>{
  [0,40,80].forEach((dx,k)=>{
    const x=x0+dx; R(x,y,28,h,'#d9d9d9',{r:2});
    const cx=x+14, cy=y+h/2;
    if(k===0){PG([[cx-9,cy],[cx,cy-9],[cx+9,cy],[cx,cy+9]],null,{stroke:'#fff',lw:2});R(cx-2,cy-2,4,4,'#fff');}
    if(k===1){PG([[cx-8,cy-5],[cx,cy-10],[cx+8,cy-5],[cx+8,cy+5],[cx,cy+10],[cx-8,cy+5]],null,{stroke:'#fff',lw:2});els.push({type:'circle',z:TOP+1,silent:true,shape:{cx,cy,r:3.5},style:{stroke:'#fff',lineWidth:2,fill:null}});}
    if(k===2){PL([[cx-7,cy-8],[cx+7,cy+8]],'#fff',2);PL([[cx+7,cy-8],[cx-7,cy+8]],'#fff',2);}
  });
};
const TXT='#707a8a', RED='#c0314a', IF=22.6;
chevron(50,100); chevron(50,135); chevron(50,1233);
infoLine1.forEach(t=>T(t[1],101,t[0],t[2]?RED:TXT,IF));
infoLine2.forEach(t=>T(t[1],136.5,t[0],t[2],IF));
infoLine3.forEach(t=>T(t[1],1234,t[0],t[2]?RED:TXT,IF));
iconSet(678,122,28); iconSet(518,1220,28);

// side handle
R(5,1443,22,62,'#ffffff',{r:6,stroke:'#eeeeee',lw:2});
PL([[13,1466],[19,1474],[13,1482]],'#848e9c',2);

// crosshair and last-price tags, placed through the axis scales
const px = (i,p)=>chart.convertToPixel({xAxisIndex:0,yAxisIndex:0},[i,p]);
const tag = (p,fill,stroke,txtColor,text,weight)=>{
  const y=px(0,p)[1]+2.5;
  PG([[2757,y],[2768,y-19],[2864,y-19],[2864,y+19],[2768,y+19]],fill,{stroke,lw:2});
  T(2776,y+0.5,text,txtColor,20,{font:AXIS,weight});
};
tag(crosshairPrice,'#f5f5f5','#e9e9e9','#1e2329',crosshairPrice.toFixed(6));
tag(lastPrice,'#9c2a3d','#b5475a','#ffffff',lastPrice.toFixed(6),'bold');
const cx = chart.convertToPixel({xAxisIndex:1},crosshairIndex);
R(cx-93,1593,188,41,'#f5f5f5');
T(cx,1613,crosshairTime,'#1e2329',20,{font:AXIS,align:'center'});

// high/low markers
const marker = (m)=>{
  const q=px(m.index,m.price), tip=q[0]-9, y=q[1]+3;
  T(tip-31,y,m.price.toFixed(6),'#474d57',20,{font:AXIS,align:'right',z:40});
  PL([[tip-26,y],[tip-2,y]],'#474d57',2.5,{z:40});
  PG([[tip-18,y-12],[tip,y],[tip-18,y+12],[tip-11,y]],'#474d57',{z:40});
};
marker(highMark); marker(lowMark);
chart.setOption({graphic:{elements:els}});
</script></body></html>
